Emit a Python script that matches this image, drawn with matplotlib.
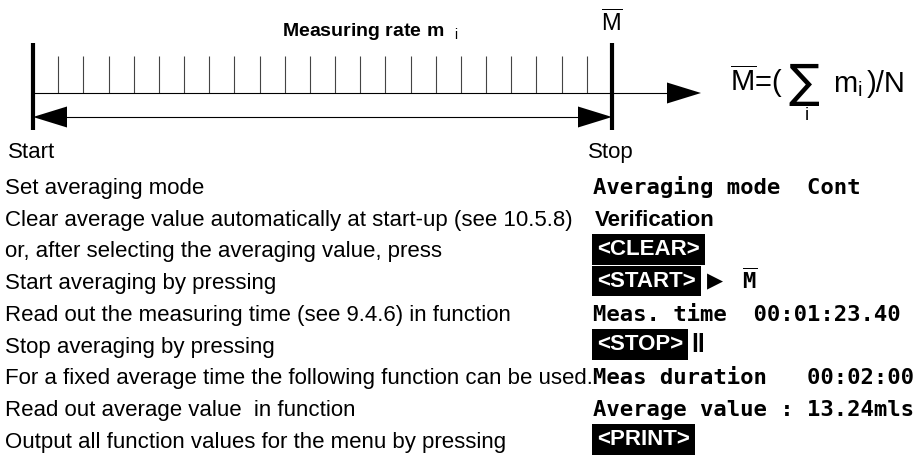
import matplotlib.pyplot as plt
import numpy as np

plt.rcParams['font.family'] = ['Liberation Sans', 'DejaVu Sans']
plt.rcParams['mathtext.fontset'] = 'custom'
plt.rcParams['mathtext.rm'] = 'Liberation Sans'
plt.rcParams['mathtext.it'] = 'Liberation Sans:italic'
plt.rcParams['mathtext.bf'] = 'Liberation Sans:bold'
plt.rcParams['mathtext.tt'] = 'DejaVu Sans Mono:bold'
plt.rcParams['mathtext.fallback'] = 'stixsans'

# diagram content
n_samples = 22
title = r'$\mathbf{Measuring\ rate\ m\ \ }_{\mathrm{i}}$'
mean_label = r'$\overline{\mathrm{M}}$'
start_label = 'Start'
stop_label = 'Stop'

left_lines = [
    'Set averaging mode',
    'Clear average value automatically at start-up (see 10.5.8)',
    'or, after selecting the averaging value, press',
    'Start averaging by pressing',
    'Read out the measuring time (see 9.4.6) in function',
    'Stop averaging by pressing',
    'For a fixed average time the following function can be used.',
    'Read out average value  in function',
    'Output all function values for the menu by pressing',
]
right_kinds = ['lcd', 'bold', 'key', 'key', 'lcd', 'key', 'lcd', 'lcd', 'key']
right_texts = [
    'Averaging mode  Cont',
    'Verification',
    '<CLEAR>',
    '<START>',
    'Meas. time  00:01:23.40',
    '<STOP>',
    'Meas duration   00:02:00',
    'Average value : 13.24mls',
    '<PRINT>',
]

fig = plt.figure(figsize=(9.17, 4.57), dpi=100)
ax = fig.add_axes([0, 0, 1, 1])
ax.set_xlim(0, 917)
ax.set_ylim(457, 0)
ax.axis('off')

# timeline
x0, x1 = 33, 612
axis_y, arrow_y = 93, 117
ticks = x0 + (x1 - x0) * np.arange(1, n_samples + 1) / (n_samples + 1)
ax.vlines(ticks, 56, axis_y, color='#444444', lw=0.8)
ax.plot([x0, 668], [axis_y, axis_y], color='k', lw=0.8)
ax.fill([667, 701, 667], [axis_y - 10.5, axis_y, axis_y + 10.5], color='k', lw=0)
ax.plot([x0 + 30, x1 - 30], [arrow_y, arrow_y], color='k', lw=0.8)
ax.fill([x0, x0 + 34, x0 + 34], [arrow_y, arrow_y - 10.5, arrow_y + 10.5], color='k', lw=0)
ax.fill([x1, x1 - 34, x1 - 34], [arrow_y, arrow_y - 10.5, arrow_y + 10.5], color='k', lw=0)
ax.vlines([x0, x1], 43, 130, color='k', lw=3)

ax.text(282, 36, title, fontsize=14, va='baseline', ha='left')
ax.text(x1, 31, mean_label, fontsize=17, va='baseline', ha='center')

# formula  M = (sum_i m_i)/N
ax.text(730, 92, mean_label + '=(', fontsize=21, va='baseline', ha='left')
ax.text(804, 85, '\u2211', fontsize=33, va='center', ha='center',
        family=['DejaVu Sans'])
ax.text(807, 116, 'i', fontsize=13, va='center', ha='center')
ax.text(833, 92, r'm$_{\mathrm{i}}$', fontsize=21, va='baseline', ha='left')
ax.text(867, 92, ')/N', fontsize=21, va='baseline', ha='left')

ax.text(8, 158, start_label, fontsize=16, va='baseline')
ax.text(588, 158, stop_label, fontsize=16, va='baseline')

# instruction rows
row_y = 186 + 31.7 * np.arange(len(left_lines))
for y, line in zip(row_y, left_lines):
    ax.text(5, y + 8, line, fontsize=16, va='baseline', ha='left')

for y, kind, txt in zip(row_y, right_kinds, right_texts):
    if kind == 'lcd':
        ax.text(593, y + 8, txt, fontsize=16, fontweight='bold',
                family='DejaVu Sans Mono', va='baseline', ha='left')
    elif kind == 'bold':
        ax.text(595, y + 8, txt, fontsize=16, fontweight='bold',
                va='baseline', ha='left')
    else:
        ax.text(597, y, txt, fontsize=16, fontweight='bold', color='white',
                va='center', ha='left',
                bbox=dict(boxstyle='square,pad=0.22', fc='black', ec='none'))
        if txt == '<START>':
            ax.text(707, y, '\u25B6', fontsize=15, va='center', ha='left',
                    family='DejaVu Sans')
            ax.text(742, y + 8, r'$\overline{\mathtt{M}}$', fontsize=16,
                    va='baseline', ha='left')
        if txt == '<STOP>':
            ax.text(691, y, 'll', fontsize=18, fontweight='bold',
                    va='center', ha='left')

fig.savefig('out.png', dpi=100)
